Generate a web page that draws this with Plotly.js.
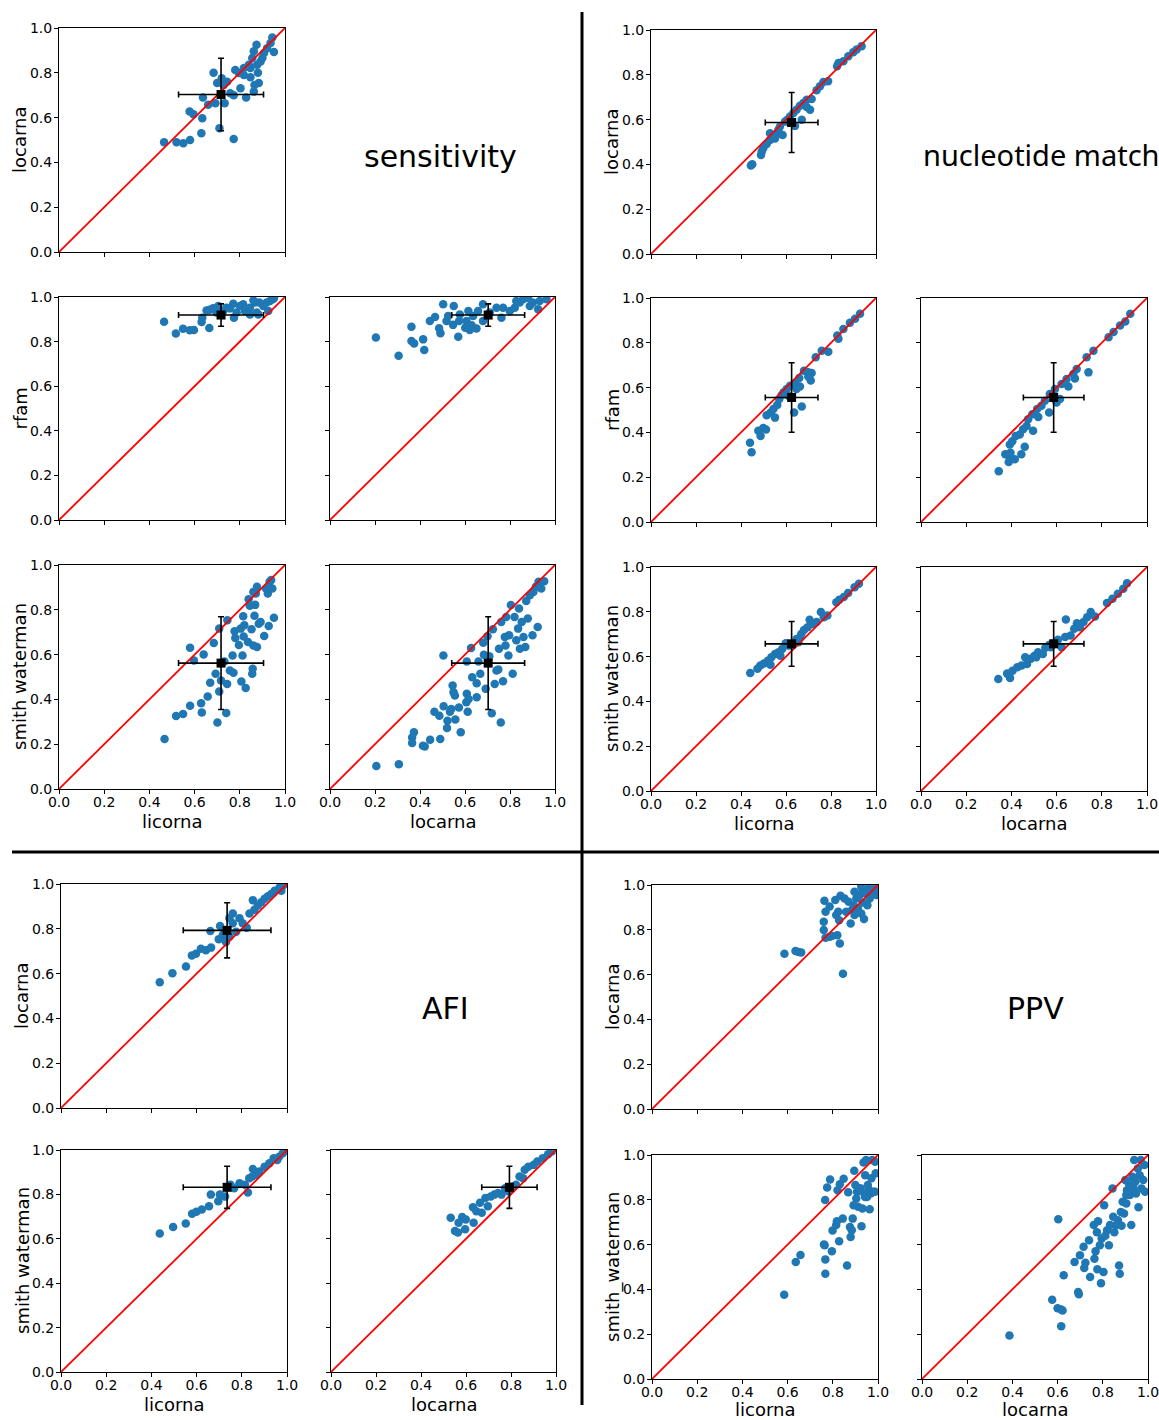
<!DOCTYPE html>
<html>
<head>
<meta charset="utf-8">
<script src="https://cdn.plot.ly/plotly-3.0.1.min.js"></script>
<style>html,body{margin:0;padding:0;background:#fff;}#chart{width:1159px;height:1420px;}</style>
</head>
<body>
<div id="chart"></div>
<script>
// ---------------- DATA ----------------
const methods = ['licorna', 'locarna', 'rfam', 'smith waterman'];
const metricTitles = ['sensitivity', 'nucleotide match', 'AFI', 'PPV'];
const tickVals = [0, 0.2, 0.4, 0.6, 0.8, 1.0];
const tickLabels = ['0.0', '0.2', '0.4', '0.6', '0.8', '1.0'];
const diagonal = [0, 1];

// means and standard deviations (licorna, locarna, rfam, smith waterman)
const sensMean = [0.717, 0.703, 0.919, 0.562];
const sensStd  = [0.188, 0.162, 0.050, 0.207];
const nucMean  = [0.625, 0.587, 0.556, 0.657];
const nucStd   = [0.117, 0.134, 0.155, 0.100];
const afiMean  = [0.735, 0.793, null, 0.832];
const afiStd   = [0.194, 0.123, null, 0.095];

// sensitivity: locarna vs licorna
const sensLicLoc_x = [0.465,0.52,0.55,0.58,0.63,0.634,0.578,0.595,0.637,0.66,0.692,0.71,0.733,0.773,0.684,0.70,0.72,0.744,0.773,0.78,0.803,0.828,0.818,0.847,0.862,0.84,0.855,0.874,0.877,0.88,0.884,0.865,0.892,0.90,0.862,0.921,0.944,0.951,0.936,0.758,0.796,0.818,0.729,0.847,0.907];
const sensLicLoc_y = [0.49,0.49,0.485,0.50,0.53,0.597,0.627,0.615,0.69,0.657,0.664,0.552,0.664,0.504,0.80,0.754,0.776,0.76,0.70,0.813,0.731,0.69,0.79,0.78,0.716,0.836,0.866,0.925,0.836,0.80,0.754,0.746,0.85,0.866,0.896,0.91,0.958,0.893,0.933,0.709,0.799,0.821,0.746,0.821,0.888];
// sensitivity: rfam vs licorna
const sensLicRfam_x = [0.465,0.517,0.549,0.579,0.597,0.631,0.634,0.665,0.653,0.682,0.705,0.727,0.741,0.771,0.774,0.786,0.815,0.823,0.845,0.867,0.875,0.886,0.904,0.926,0.934,0.945,0.951,0.756,0.845,0.882,0.919,0.860,0.801,0.697,0.667];
const sensLicRfam_y = [0.889,0.836,0.858,0.851,0.852,0.888,0.907,0.861,0.940,0.949,0.96,0.937,0.952,0.97,0.907,0.93,0.967,0.937,0.952,0.975,0.93,0.975,0.96,0.937,0.982,0.990,0.994,0.949,0.922,0.922,0.975,0.985,0.96,0.93,0.943];
// sensitivity: rfam vs locarna
const sensLocRfam_x = [0.204,0.305,0.362,0.362,0.374,0.414,0.419,0.444,0.467,0.485,0.491,0.503,0.518,0.525,0.550,0.547,0.570,0.574,0.601,0.607,0.615,0.621,0.629,0.651,0.658,0.680,0.680,0.710,0.740,0.762,0.769,0.799,0.821,0.843,0.858,0.880,0.888,0.902,0.925,0.932,0.962,0.577,0.636,0.828];
const sensLocRfam_y = [0.818,0.737,0.867,0.803,0.792,0.81,0.762,0.892,0.91,0.86,0.837,0.967,0.892,0.915,0.96,0.875,0.822,0.892,0.862,0.892,0.937,0.852,0.873,0.859,0.937,0.967,0.892,0.930,0.952,0.907,0.952,0.937,0.952,0.975,0.990,0.997,0.96,0.975,0.945,0.982,0.990,0.922,0.915,0.982];
// sensitivity: smith waterman vs licorna
const sensLicSw_x = [0.467,0.518,0.549,0.580,0.597,0.580,0.629,0.632,0.640,0.658,0.669,0.685,0.693,0.701,0.709,0.709,0.717,0.732,0.740,0.744,0.745,0.756,0.768,0.772,0.777,0.780,0.804,0.807,0.812,0.815,0.817,0.826,0.836,0.839,0.844,0.852,0.855,0.857,0.860,0.865,0.868,0.871,0.876,0.876,0.884,0.892,0.908,0.916,0.924,0.928,0.932,0.939,0.944,0.951,0.860,0.820,0.796];
const sensLicSw_y = [0.223,0.326,0.335,0.631,0.574,0.372,0.383,0.342,0.601,0.413,0.474,0.652,0.514,0.297,0.435,0.716,0.484,0.569,0.339,0.469,0.753,0.529,0.596,0.519,0.704,0.674,0.716,0.480,0.596,0.771,0.681,0.451,0.656,0.847,0.818,0.713,0.514,0.537,0.641,0.773,0.822,0.873,0.903,0.634,0.738,0.746,0.683,0.895,0.873,0.728,0.925,0.933,0.895,0.765,0.880,0.731,0.643];
// sensitivity: smith waterman vs locarna
const sensLocSw_x = [0.206,0.306,0.365,0.373,0.365,0.413,0.421,0.445,0.464,0.490,0.486,0.505,0.504,0.520,0.522,0.533,0.545,0.549,0.555,0.539,0.557,0.581,0.573,0.606,0.608,0.612,0.616,0.608,0.627,0.632,0.652,0.652,0.660,0.668,0.681,0.684,0.692,0.700,0.708,0.719,0.724,0.732,0.740,0.748,0.751,0.759,0.761,0.769,0.777,0.780,0.783,0.793,0.796,0.804,0.812,0.820,0.828,0.836,0.840,0.844,0.852,0.860,0.868,0.872,0.879,0.888,0.900,0.904,0.915,0.923,0.927,0.939,0.952];
const sensLocSw_y = [0.103,0.111,0.230,0.253,0.205,0.193,0.190,0.220,0.345,0.223,0.327,0.369,0.596,0.272,0.305,0.345,0.462,0.432,0.417,0.357,0.310,0.253,0.364,0.387,0.425,0.345,0.402,0.569,0.629,0.499,0.410,0.472,0.569,0.514,0.653,0.599,0.447,0.682,0.593,0.338,0.713,0.469,0.529,0.534,0.626,0.297,0.746,0.481,0.679,0.641,0.768,0.596,0.686,0.821,0.514,0.768,0.664,0.716,0.806,0.626,0.746,0.679,0.634,0.839,0.761,0.865,0.686,0.880,0.903,0.723,0.925,0.895,0.928];

// nucleotide match: locarna vs licorna
const nucLicLoc_x = [0.444,0.450,0.489,0.492,0.499,0.514,0.529,0.544,0.559,0.566,0.573,0.585,0.596,0.606,0.618,0.633,0.640,0.647,0.662,0.670,0.677,0.692,0.707,0.714,0.736,0.751,0.766,0.787,0.827,0.833,0.855,0.877,0.899,0.914,0.936,0.529,0.551,0.618,0.692];
const nucLicLoc_y = [0.395,0.401,0.442,0.457,0.472,0.491,0.509,0.524,0.534,0.554,0.569,0.531,0.591,0.599,0.614,0.629,0.572,0.644,0.662,0.599,0.674,0.689,0.644,0.692,0.731,0.749,0.768,0.771,0.838,0.853,0.861,0.883,0.901,0.913,0.928,0.539,0.516,0.591,0.656];
// nucleotide match: rfam vs licorna
const nucLicRfam_x = [0.440,0.447,0.477,0.487,0.499,0.511,0.514,0.532,0.544,0.551,0.561,0.570,0.581,0.590,0.603,0.610,0.618,0.636,0.640,0.659,0.662,0.670,0.680,0.699,0.710,0.714,0.732,0.759,0.788,0.828,0.833,0.855,0.884,0.907,0.929,0.647,0.699];
const nucLicRfam_y = [0.354,0.311,0.407,0.384,0.420,0.413,0.477,0.489,0.504,0.466,0.522,0.549,0.567,0.579,0.594,0.564,0.608,0.489,0.620,0.643,0.605,0.516,0.675,0.668,0.632,0.665,0.735,0.765,0.760,0.833,0.818,0.862,0.889,0.907,0.930,0.594,0.650];
// nucleotide match: rfam vs locarna
const nucLocRfam_x = [0.344,0.388,0.393,0.415,0.373,0.396,0.393,0.404,0.444,0.459,0.419,0.437,0.452,0.467,0.496,0.474,0.493,0.519,0.514,0.533,0.548,0.567,0.570,0.593,0.600,0.615,0.622,0.644,0.652,0.674,0.681,0.689,0.741,0.733,0.763,0.830,0.852,0.881,0.904,0.926];
const nucLocRfam_y = [0.227,0.268,0.287,0.280,0.302,0.309,0.346,0.361,0.302,0.336,0.384,0.391,0.414,0.429,0.407,0.459,0.481,0.469,0.504,0.519,0.541,0.489,0.571,0.594,0.534,0.549,0.616,0.638,0.605,0.661,0.641,0.683,0.668,0.735,0.765,0.825,0.848,0.877,0.895,0.930];
// nucleotide match: smith waterman vs licorna
const nucLicSw_x = [0.441,0.473,0.486,0.502,0.519,0.535,0.531,0.551,0.567,0.583,0.599,0.612,0.631,0.647,0.655,0.668,0.680,0.696,0.705,0.720,0.736,0.755,0.768,0.784,0.824,0.837,0.857,0.876,0.905,0.924,0.575,0.663];
const nucLicSw_y = [0.527,0.546,0.560,0.569,0.581,0.597,0.564,0.612,0.619,0.634,0.660,0.649,0.654,0.679,0.664,0.701,0.719,0.731,0.764,0.746,0.754,0.799,0.776,0.784,0.843,0.854,0.866,0.884,0.910,0.925,0.604,0.687];
// nucleotide match: smith waterman vs locarna
const nucLocSw_x = [0.342,0.381,0.394,0.405,0.426,0.445,0.461,0.469,0.486,0.502,0.518,0.539,0.550,0.566,0.582,0.606,0.622,0.638,0.641,0.662,0.678,0.690,0.703,0.719,0.735,0.751,0.770,0.823,0.847,0.871,0.895,0.912,0.510,0.574];
const nucLocSw_y = [0.500,0.524,0.504,0.537,0.552,0.560,0.597,0.567,0.590,0.604,0.619,0.612,0.639,0.652,0.658,0.675,0.642,0.687,0.766,0.694,0.724,0.749,0.731,0.754,0.776,0.799,0.779,0.839,0.858,0.881,0.903,0.928,0.597,0.642];

// AFI: locarna vs licorna
const afiLicLoc_x = [0.437,0.493,0.553,0.579,0.597,0.619,0.641,0.664,0.661,0.698,0.704,0.716,0.730,0.745,0.760,0.775,0.790,0.804,0.822,0.834,0.849,0.856,0.871,0.886,0.901,0.916,0.930,0.945,0.967,0.982,0.990,0.975,0.760,0.745];
const afiLicLoc_y = [0.561,0.602,0.632,0.681,0.689,0.711,0.704,0.716,0.790,0.753,0.813,0.772,0.741,0.847,0.825,0.787,0.847,0.825,0.805,0.868,0.928,0.885,0.904,0.919,0.934,0.945,0.955,0.970,0.985,0.993,1.0,0.970,0.868,0.765];
// AFI: smith waterman vs licorna
const afiLicSw_x = [0.437,0.496,0.552,0.580,0.599,0.623,0.655,0.663,0.696,0.703,0.726,0.750,0.766,0.790,0.814,0.827,0.833,0.849,0.862,0.878,0.901,0.922,0.941,0.965,0.981,0.992,0.957,0.846];
const afiLicSw_y = [0.624,0.653,0.669,0.713,0.722,0.732,0.747,0.799,0.769,0.799,0.790,0.843,0.828,0.850,0.843,0.809,0.873,0.914,0.888,0.903,0.925,0.940,0.963,0.970,0.985,0.996,0.955,0.881];
// AFI: smith waterman vs locarna
const afiLocSw_x = [0.532,0.551,0.567,0.583,0.599,0.564,0.596,0.634,0.631,0.646,0.670,0.662,0.686,0.697,0.710,0.726,0.742,0.758,0.774,0.790,0.822,0.838,0.861,0.877,0.901,0.917,0.941,0.965,0.981,0.854,0.806];
const afiLocSw_y = [0.695,0.635,0.672,0.698,0.687,0.628,0.643,0.672,0.742,0.724,0.717,0.762,0.784,0.747,0.791,0.799,0.806,0.799,0.828,0.813,0.843,0.881,0.911,0.925,0.933,0.948,0.963,0.981,0.993,0.873,0.836];

// PPV: locarna vs licorna
const ppvLicLoc_x = [0.586,0.635,0.648,0.660,0.763,0.760,0.760,0.768,0.768,0.786,0.786,0.796,0.811,0.815,0.820,0.824,0.828,0.831,0.834,0.845,0.852,0.859,0.870,0.879,0.885,0.893,0.896,0.904,0.911,0.919,0.926,0.930,0.933,0.938,0.944,0.953,0.959,0.963,0.970,0.985,0.993,0.926,0.896];
const ppvLicLoc_y = [0.693,0.705,0.701,0.699,0.930,0.836,0.799,0.765,0.881,0.904,0.769,0.772,0.933,0.866,0.776,0.881,0.843,0.739,0.952,0.604,0.940,0.881,0.925,0.828,0.889,0.907,0.866,0.940,0.896,0.955,0.873,0.985,0.922,0.848,0.963,0.910,0.985,0.940,0.970,0.985,0.955,0.993,0.970];
// PPV: smith waterman vs licorna
const ppvLicSw_x = [0.585,0.636,0.657,0.767,0.767,0.761,0.764,0.766,0.775,0.788,0.796,0.799,0.815,0.818,0.821,0.828,0.831,0.844,0.848,0.863,0.868,0.876,0.879,0.884,0.888,0.892,0.895,0.900,0.904,0.907,0.912,0.920,0.927,0.931,0.936,0.939,0.943,0.947,0.951,0.955,0.960,0.963,0.968,0.971,0.974,0.979,0.987,0.990,0.987,0.923,0.943];
const ppvLicSw_y = [0.376,0.522,0.554,0.470,0.534,0.601,0.597,0.799,0.855,0.891,0.570,0.663,0.687,0.704,0.843,0.615,0.869,0.716,0.894,0.507,0.834,0.679,0.634,0.664,0.716,0.776,0.930,0.866,0.806,0.836,0.769,0.851,0.682,0.761,0.967,0.828,0.910,0.978,0.813,0.866,0.843,0.758,0.828,0.896,0.978,0.836,0.970,0.918,0.836,0.851,0.813];
// PPV: smith waterman vs locarna
const ppvLocSw_x = [0.387,0.576,0.600,0.616,0.622,0.616,0.603,0.627,0.691,0.694,0.675,0.699,0.715,0.718,0.723,0.739,0.744,0.760,0.763,0.768,0.774,0.779,0.776,0.787,0.792,0.795,0.803,0.806,0.811,0.819,0.827,0.832,0.843,0.846,0.851,0.859,0.867,0.872,0.875,0.883,0.888,0.894,0.899,0.904,0.907,0.915,0.920,0.926,0.931,0.936,0.939,0.944,0.947,0.955,0.958,0.963,0.968,0.971,0.979,0.984,0.987,0.904,0.880];
const ppvLocSw_y = [0.194,0.354,0.316,0.310,0.306,0.236,0.713,0.463,0.388,0.378,0.522,0.552,0.590,0.496,0.519,0.619,0.455,0.687,0.537,0.570,0.655,0.704,0.490,0.597,0.428,0.627,0.478,0.776,0.640,0.664,0.597,0.687,0.851,0.724,0.655,0.687,0.709,0.507,0.470,0.684,0.791,0.739,0.888,0.784,0.843,0.873,0.821,0.687,0.903,0.851,0.978,0.881,0.828,0.940,0.767,0.910,0.978,0.851,0.888,0.955,0.836,0.821,0.746];

// ---------------- LAYOUT / DRAWING ----------------
const W = 1159, H = 1420;
const FONT = 'DejaVu Sans, sans-serif';

// panel pixel boxes: [left, right, top, bottom]
const panels = [
  // sensitivity
  {xs: sensLicLoc_x, ys: sensLicLoc_y, box: [59, 285, 28, 252], xi: 0, yi: 1, xt: false, yt: true, m: [sensMean, sensStd]},
  {xs: sensLicRfam_x, ys: sensLicRfam_y, box: [59, 285, 297, 520], xi: 0, yi: 2, xt: false, yt: true, m: [sensMean, sensStd]},
  {xs: sensLocRfam_x, ys: sensLocRfam_y, box: [330, 555, 297, 520], xi: 1, yi: 2, xt: false, yt: false, m: [sensMean, sensStd]},
  {xs: sensLicSw_x, ys: sensLicSw_y, box: [59, 285, 565, 789], xi: 0, yi: 3, xt: true, yt: true, m: [sensMean, sensStd]},
  {xs: sensLocSw_x, ys: sensLocSw_y, box: [330, 555, 565, 789], xi: 1, yi: 3, xt: true, yt: false, m: [sensMean, sensStd]},
  // nucleotide match
  {xs: nucLicLoc_x, ys: nucLicLoc_y, box: [651, 876, 30, 254], xi: 0, yi: 1, xt: false, yt: true, m: [nucMean, nucStd]},
  {xs: nucLicRfam_x, ys: nucLicRfam_y, box: [651, 876, 298, 522], xi: 0, yi: 2, xt: false, yt: true, m: [nucMean, nucStd]},
  {xs: nucLocRfam_x, ys: nucLocRfam_y, box: [921, 1147, 298, 522], xi: 1, yi: 2, xt: false, yt: false, m: [nucMean, nucStd]},
  {xs: nucLicSw_x, ys: nucLicSw_y, box: [651, 876, 567, 791], xi: 0, yi: 3, xt: true, yt: true, m: [nucMean, nucStd]},
  {xs: nucLocSw_x, ys: nucLocSw_y, box: [921, 1147, 567, 791], xi: 1, yi: 3, xt: true, yt: false, m: [nucMean, nucStd]},
  // AFI
  {xs: afiLicLoc_x, ys: afiLicLoc_y, box: [61, 287, 884, 1108], xi: 0, yi: 1, xt: false, yt: true, m: [afiMean, afiStd]},
  {xs: afiLicSw_x, ys: afiLicSw_y, box: [61, 287, 1150, 1372], xi: 0, yi: 3, xt: true, yt: true, m: [afiMean, afiStd]},
  {xs: afiLocSw_x, ys: afiLocSw_y, box: [331, 556, 1150, 1372], xi: 1, yi: 3, xt: true, yt: false, m: [afiMean, afiStd]},
  // PPV
  {xs: ppvLicLoc_x, ys: ppvLicLoc_y, box: [652, 878, 885, 1109], xi: 0, yi: 1, xt: false, yt: true, m: null},
  {xs: ppvLicSw_x, ys: ppvLicSw_y, box: [652, 878, 1155, 1379], xi: 0, yi: 3, xt: true, yt: true, m: null, ylabel: 'smith_waterman', xlabOff: 30},
  {xs: ppvLocSw_x, ys: ppvLocSw_y, box: [922, 1148, 1155, 1379], xi: 1, yi: 3, xt: true, yt: false, m: null, xlabOff: 30}
];

// title positions [x, y, anchor, font, size]
const titlePos = [
  [440, 157, 'center', FONT, 30],
  [921, 155, 'left', 'Noto Sans, Open Sans, sans-serif', 29],
  [445, 1008, 'center', FONT, 30],
  [1035, 1008, 'center', FONT, 30]
];

const traces = [];
const layout = {
  width: W, height: H,
  margin: {l: 0, r: 0, t: 0, b: 0, pad: 0},
  paper_bgcolor: '#fff', plot_bgcolor: '#fff',
  showlegend: false,
  font: {family: FONT, color: '#000', size: 14},
  annotations: [],
  shapes: []
};

function axisBase(showLabels, standoff) {
  return {
    range: [0, 1], autorange: false,
    tickmode: 'array', tickvals: tickVals, ticktext: tickLabels,
    showticklabels: showLabels,
    ticks: 'outside', ticklen: 4, tickwidth: 1, tickcolor: '#000',
    ticklabelstandoff: standoff, ticklabeloverflow: 'allow',
    tickfont: {family: FONT, size: 14, color: '#000'},
    showline: true, linecolor: '#000', linewidth: 1, mirror: true,
    showgrid: false, zeroline: false, fixedrange: true
  };
}

panels.forEach((p, i) => {
  const n = i + 1;
  const sfx = n === 1 ? '' : String(n);
  const xa = 'x' + sfx, ya = 'y' + sfx;
  const [l, r, t, b] = p.box;

  traces.push({
    type: 'scatter', mode: 'markers', x: p.xs, y: p.ys, xaxis: xa, yaxis: ya,
    marker: {color: '#1f77b4', size: 8.5, line: {width: 0}}, hoverinfo: 'skip'
  });
  traces.push({
    type: 'scatter', mode: 'lines', x: diagonal, y: diagonal, xaxis: xa, yaxis: ya,
    line: {color: '#ff0000', width: 1.8}, hoverinfo: 'skip'
  });
  if (p.m) {
    const [mean, sd] = p.m;
    traces.push({
      type: 'scatter', mode: 'markers', x: [mean[p.xi]], y: [mean[p.yi]], xaxis: xa, yaxis: ya,
      marker: {symbol: 'square', size: 9, color: '#000'},
      error_x: {type: 'data', array: [sd[p.xi]], color: '#000', thickness: 1.6, width: 3},
      error_y: {type: 'data', array: [sd[p.yi]], color: '#000', thickness: 1.6, width: 3},
      hoverinfo: 'skip'
    });
  }

  layout['xaxis' + sfx] = Object.assign(axisBase(p.xt, -4), {domain: [l / W, r / W], anchor: ya});
  layout['yaxis' + sfx] = Object.assign(axisBase(p.yt, -1), {domain: [1 - b / H, 1 - t / H], anchor: xa});

  // axis titles
  if (p.yt) {
    layout.annotations.push({
      xref: 'paper', yref: 'paper', x: (l - 39) / W, y: 1 - ((t + b) / 2) / H,
      xanchor: 'center', yanchor: 'middle', textangle: -90, showarrow: false,
      text: p.ylabel || methods[p.yi], font: {family: FONT, size: 18, color: '#000'}
    });
  }
  if (p.xt) {
    layout.annotations.push({
      xref: 'paper', yref: 'paper', x: ((l + r) / 2) / W, y: 1 - (b + (p.xlabOff || 32)) / H,
      xanchor: 'center', yanchor: 'middle', showarrow: false,
      text: methods[p.xi], font: {family: FONT, size: 18, color: '#000'}
    });
  }
});

metricTitles.forEach((txt, i) => {
  const [px, py, anc, fam, sz] = titlePos[i];
  layout.annotations.push({
    xref: 'paper', yref: 'paper', x: px / W, y: 1 - py / H,
    xanchor: anc, yanchor: 'middle', showarrow: false,
    text: txt, font: {family: fam, size: sz, color: '#000'}
  });
});

// quadrant separators
layout.shapes.push({type: 'line', xref: 'paper', yref: 'paper', x0: 582 / W, x1: 582 / W, y0: 1 - 12 / H, y1: 1 - 1405 / H, line: {color: '#000', width: 3}});
layout.shapes.push({type: 'line', xref: 'paper', yref: 'paper', x0: 12 / W, x1: 1, y0: 1 - 852 / H, y1: 1 - 852 / H, line: {color: '#000', width: 3}});

Plotly.newPlot('chart', traces, layout, {staticPlot: true, displayModeBar: false});
</script>
</body>
</html>
